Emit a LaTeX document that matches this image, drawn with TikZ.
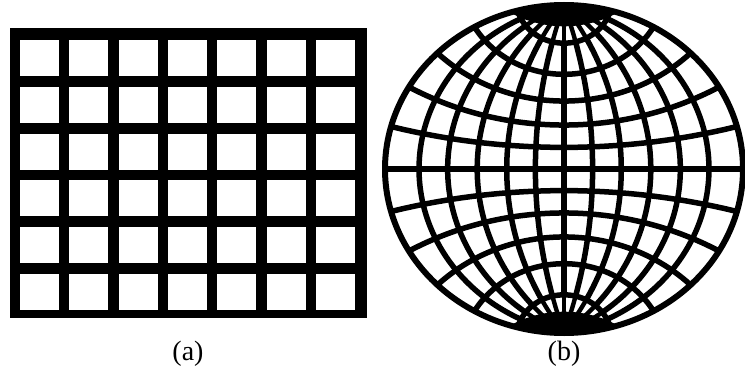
\documentclass[tikz,border=0pt]{standalone}
\usepackage{fontspec}
\setmainfont{Liberation Serif}
\usepackage{tikz}
\begin{document}
\begin{tikzpicture}[x=1pt, y=1pt,
  netline/.style={line width=5.5pt, line join=round},
  capline/.style={line width=4.4pt},
  caption/.style={font=\fontsize{28}{32}\selectfont, inner sep=0pt}]
  \useasboundingbox (0,0) rectangle (745,376);
  % (a) square mesh
  \fill[black] (10,58) rectangle (367,348);
  \foreach \c in {0,...,6}
    \foreach \r in {0,...,5}
      \fill[white] ({20+49.3*\c},{336-46.8*\r}) rectangle ++(39,-36);
  \node[caption] (capa) at (188,22) {(a)};
  % (b) globe net
  \begin{scope}[shift={(564,207)}, xscale=179, yscale=164]
    \begin{scope}
      \clip (0,0) circle (1);
      \draw[netline] (0,-1) -- (0,1);
      \foreach \m in {0.16,0.32,0.485,0.65,0.81} {
        \pgfmathsetmacro\cc{(\m*\m-1)/(2*\m)}
        \pgfmathsetmacro\rr{(\m*\m+1)/(2*\m)}
        \pgfmathsetmacro\tt{2*atan(\m)}
        \draw[netline] plot[domain=-\tt:\tt, samples=60, smooth] ({\cc+\rr*cos(\x)},{\rr*sin(\x)});
        \draw[netline] plot[domain=-\tt:\tt, samples=60, smooth] ({-\cc-\rr*cos(\x)},{\rr*sin(\x)});
      }
      % thinner meridians inside the polar caps
      \foreach \s in {1,-1} {
        \begin{scope}
          \clip (0,\s*1.0353) circle (0.268);
          \fill[white] (-1,-1.1) rectangle (1,1.1);
          \draw[capline] (0,-1) -- (0,1);
          \foreach \m in {0.16,0.32,0.485,0.65,0.81} {
            \pgfmathsetmacro\cc{(\m*\m-1)/(2*\m)}
            \pgfmathsetmacro\rr{(\m*\m+1)/(2*\m)}
            \pgfmathsetmacro\tt{2*atan(\m)}
            \draw[capline] plot[domain=-\tt:\tt, samples=60, smooth] ({\cc+\rr*cos(\x)},{\rr*sin(\x)});
            \draw[capline] plot[domain=-\tt:\tt, samples=60, smooth] ({-\cc-\rr*cos(\x)},{\rr*sin(\x)});
          }
        \end{scope}
        % dark pole patch
        \fill[black] (0,\s*1.4476) circle (0.5776);
      }
      \draw[netline] (-1,0) -- (1,0);
      \foreach \p in {15,30,45,60,75} {
        \pgfmathsetmacro\yc{1/sin(\p)}
        \pgfmathsetmacro\rr{cos(\p)/sin(\p)}
        \draw[netline] plot[domain=270-\p:270+\p, samples=60, smooth] ({\rr*cos(\x)},{\yc+\rr*sin(\x)});
        \draw[netline] plot[domain=270-\p:270+\p, samples=60, smooth] ({\rr*cos(\x)},{-\yc-\rr*sin(\x)});
      }
    \end{scope}
    \draw[line width=6pt] (0,0) circle (1);
  \end{scope}
  \node[caption] (capb) at (564,22) {(b)};
\end{tikzpicture}
\end{document}
